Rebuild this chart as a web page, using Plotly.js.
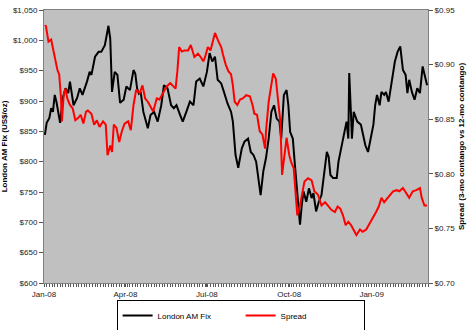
<!DOCTYPE html>
<html>
<head>
<meta charset="utf-8">
<script src="https://cdn.plot.ly/plotly-3.0.1.min.js"></script>
<style>html,body{margin:0;padding:0;background:#fff;}#chart{width:470px;height:330px;}</style>
</head>
<body>
<div id="chart"></div>
<script>
// London AM Fix (US$/oz)
const goldDates = ["2008-01-02","2008-01-04","2008-01-07","2008-01-09","2008-01-11","2008-01-13","2008-01-15","2008-01-17","2008-01-19","2008-01-22","2008-01-25","2008-01-28","2008-01-30","2008-02-03","2008-02-07","2008-02-10","2008-02-13","2008-02-18","2008-02-21","2008-02-23","2008-02-27","2008-03-02","2008-03-05","2008-03-09","2008-03-13","2008-03-15","2008-03-17","2008-03-20","2008-03-23","2008-03-26","2008-03-30","2008-04-02","2008-04-06","2008-04-10","2008-04-12","2008-04-14","2008-04-16","2008-04-18","2008-04-21","2008-04-26","2008-04-29","2008-05-03","2008-05-07","2008-05-11","2008-05-14","2008-05-18","2008-05-22","2008-05-25","2008-05-28","2008-06-01","2008-06-04","2008-06-08","2008-06-12","2008-06-16","2008-06-19","2008-06-23","2008-06-27","2008-07-01","2008-07-04","2008-07-07","2008-07-10","2008-07-13","2008-07-17","2008-07-20","2008-07-24","2008-07-28","2008-07-30","2008-08-02","2008-08-05","2008-08-09","2008-08-12","2008-08-16","2008-08-19","2008-08-22","2008-08-25","2008-08-30","2008-09-02","2008-09-05","2008-09-08","2008-09-11","2008-09-14","2008-09-17","2008-09-20","2008-09-22","2008-09-25","2008-09-28","2008-09-30","2008-10-02","2008-10-05","2008-10-07","2008-10-09","2008-10-11","2008-10-13","2008-10-15","2008-10-17","2008-10-20","2008-10-23","2008-10-26","2008-10-28","2008-10-31","2008-11-03","2008-11-06","2008-11-09","2008-11-12","2008-11-14","2008-11-16","2008-11-19","2008-11-23","2008-11-25","2008-11-28","2008-12-01","2008-12-04","2008-12-06","2008-12-07","2008-12-09","2008-12-10","2008-12-12","2008-12-16","2008-12-20","2008-12-22","2008-12-25","2008-12-28","2008-12-31","2009-01-03","2009-01-05","2009-01-07","2009-01-10","2009-01-12","2009-01-15","2009-01-17","2009-01-20","2009-01-23","2009-01-25","2009-01-27","2009-01-30","2009-02-02","2009-02-05","2009-02-08","2009-02-10","2009-02-12","2009-02-15","2009-02-18","2009-02-21","2009-02-24","2009-02-27","2009-03-02","2009-03-04"];
const goldValues = [844,864,872,888,882,910,898,882,864,905,921,913,932,893,905,921,910,932,948,943,973,981,981,992,1024,1003,915,948,943,897,902,924,918,951,945,921,912,915,882,855,877,882,866,893,926,921,893,888,893,877,866,882,899,893,932,937,924,948,979,965,973,935,929,915,896,882,866,811,790,822,833,838,816,811,800,745,784,806,838,882,893,871,866,838,910,918,893,849,838,800,762,729,696,729,751,734,756,740,748,718,734,745,778,816,808,778,773,773,800,822,838,866,838,946,877,838,882,866,861,849,827,816,838,861,893,910,893,915,910,915,899,926,948,965,981,990,951,943,913,935,915,902,921,913,957,937,926];

// Spread (3-mo contango vs 12-mo contango)
const spreadDates = ["2008-01-02","2008-01-03","2008-01-06","2008-01-09","2008-01-11","2008-01-13","2008-01-16","2008-01-18","2008-01-20","2008-01-21","2008-01-23","2008-01-25","2008-01-27","2008-01-30","2008-02-02","2008-02-05","2008-02-08","2008-02-11","2008-02-14","2008-02-17","2008-02-19","2008-02-23","2008-02-26","2008-02-29","2008-03-03","2008-03-07","2008-03-10","2008-03-12","2008-03-15","2008-03-17","2008-03-19","2008-03-22","2008-03-25","2008-03-28","2008-03-31","2008-04-04","2008-04-07","2008-04-10","2008-04-13","2008-04-17","2008-04-20","2008-04-23","2008-04-26","2008-04-30","2008-05-02","2008-05-06","2008-05-09","2008-05-13","2008-05-17","2008-05-21","2008-05-24","2008-05-27","2008-05-29","2008-05-31","2008-06-03","2008-06-06","2008-06-10","2008-06-13","2008-06-17","2008-06-21","2008-06-24","2008-06-27","2008-06-29","2008-07-02","2008-07-05","2008-07-10","2008-07-14","2008-07-17","2008-07-19","2008-07-22","2008-07-25","2008-07-28","2008-07-30","2008-08-01","2008-08-04","2008-08-07","2008-08-10","2008-08-14","2008-08-18","2008-08-21","2008-08-23","2008-08-26","2008-08-29","2008-09-01","2008-09-04","2008-09-05","2008-09-08","2008-09-11","2008-09-13","2008-09-16","2008-09-18","2008-09-21","2008-09-23","2008-09-25","2008-09-28","2008-10-01","2008-10-03","2008-10-06","2008-10-08","2008-10-10","2008-10-13","2008-10-16","2008-10-18","2008-10-22","2008-10-26","2008-10-29","2008-11-02","2008-11-06","2008-11-10","2008-11-13","2008-11-17","2008-11-21","2008-11-24","2008-11-27","2008-11-30","2008-12-03","2008-12-06","2008-12-09","2008-12-11","2008-12-15","2008-12-19","2008-12-22","2008-12-26","2008-12-29","2009-01-01","2009-01-04","2009-01-06","2009-01-09","2009-01-12","2009-01-15","2009-01-17","2009-01-21","2009-01-25","2009-01-29","2009-02-01","2009-02-05","2009-02-09","2009-02-12","2009-02-16","2009-02-20","2009-02-24","2009-02-26","2009-03-01","2009-03-04"];
const spreadValues = [0.935,0.936,0.921,0.923,0.915,0.906,0.895,0.891,0.869,0.848,0.872,0.878,0.869,0.863,0.860,0.849,0.851,0.854,0.846,0.857,0.858,0.855,0.845,0.849,0.843,0.848,0.845,0.817,0.826,0.820,0.845,0.842,0.829,0.839,0.846,0.848,0.840,0.863,0.877,0.874,0.881,0.869,0.866,0.860,0.857,0.869,0.868,0.874,0.880,0.883,0.880,0.878,0.894,0.916,0.912,0.913,0.913,0.918,0.907,0.910,0.907,0.903,0.907,0.916,0.913,0.929,0.921,0.916,0.909,0.900,0.894,0.891,0.881,0.866,0.863,0.868,0.869,0.872,0.871,0.863,0.855,0.854,0.839,0.836,0.823,0.839,0.866,0.881,0.892,0.887,0.872,0.848,0.799,0.814,0.833,0.817,0.811,0.805,0.784,0.762,0.771,0.784,0.793,0.796,0.794,0.784,0.781,0.771,0.774,0.771,0.767,0.765,0.770,0.768,0.762,0.753,0.756,0.753,0.750,0.744,0.749,0.747,0.749,0.753,0.758,0.762,0.765,0.770,0.778,0.774,0.776,0.781,0.784,0.785,0.784,0.787,0.782,0.778,0.784,0.785,0.787,0.778,0.771,0.771];

const seriesNames = ["London AM Fix", "Spread"];
const leftTitle = "London AM Fix (US$/oz)";
const rightTitle = "Spread (3-mo contango vs 12-mo contango)";

const FONT = "Liberation Sans, Arial, sans-serif";

const traces = [
  {x: goldDates, y: goldValues, name: seriesNames[0], type: "scatter", mode: "lines",
   line: {color: "#000000", width: 2}, yaxis: "y"},
  {x: spreadDates, y: spreadValues, name: seriesNames[1], type: "scatter", mode: "lines",
   line: {color: "#FF0000", width: 2}, yaxis: "y2"}
];

const layout = {
  width: 470, height: 330,
  margin: {l: 44, r: 42, t: 10, b: 47, autoexpand: false},
  paper_bgcolor: "#FFFFFF",
  plot_bgcolor: "#C0C0C0",
  font: {family: FONT, size: 8, color: "#222"},
  showlegend: true,
  legend: {
    orientation: "h", x: 0.512, xanchor: "center", y: -0.062, yanchor: "top",
    bgcolor: "#FFFFFF", bordercolor: "#000000", borderwidth: 1,
    font: {family: FONT, size: 8, color: "#000"},
    entrywidth: 78, entrywidthmode: "pixels", tracegroupgap: 0,
    itemwidth: 30
  },
  xaxis: {
    type: "date", range: ["2008-01-01", "2009-03-05"], automargin: false,
    tickformat: "%b-%y", dtick: "M3", tick0: "2008-01-01",
    ticks: "outside", ticklen: 3, tickcolor: "#555",
    showgrid: false, zeroline: false,
    showline: true, linecolor: "#808080", linewidth: 1, mirror: true,
    minor: {dtick: 3 * 86400000, ticks: "outside", ticklen: 3, tickcolor: "#555", showgrid: false},
    tickfont: {family: FONT, size: 8, color: "#222"}
  },
  yaxis: {
    range: [600, 1050], dtick: 50, tickformat: "$,.0f", automargin: false,
    ticks: "outside", ticklen: 4, tickcolor: "#555",
    showgrid: false, zeroline: false,
    showline: true, linecolor: "#808080", linewidth: 1,
    tickfont: {family: FONT, size: 8, color: "#222"},
    title: {text: leftTitle, font: {family: FONT, size: 8, color: "#000", weight: "bold"}, standoff: 4}
  },
  yaxis2: {
    overlaying: "y", side: "right", automargin: false,
    range: [0.70, 0.95], dtick: 0.05, tickformat: "$.2f",
    ticks: "outside", ticklen: 4, tickcolor: "#555",
    showgrid: false, zeroline: false,
    showline: true, linecolor: "#808080", linewidth: 1,
    tickfont: {family: FONT, size: 8, color: "#222"},
    title: {text: rightTitle, font: {family: FONT, size: 8, color: "#000", weight: "bold"}, standoff: 4}
  }
};

Plotly.newPlot("chart", traces, layout, {displayModeBar: false, staticPlot: true});
</script>
</body>
</html>
